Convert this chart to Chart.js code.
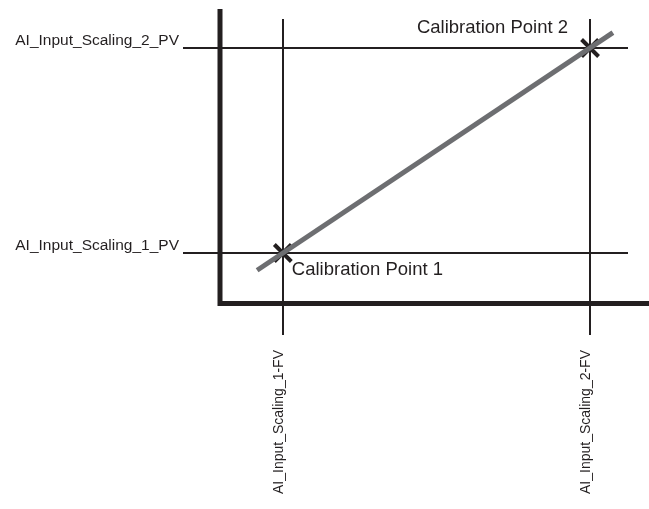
<!DOCTYPE html>
<html>
<head>
<meta charset="utf-8">
<script src="https://cdn.jsdelivr.net/npm/chart.js@4.4.1/dist/chart.umd.min.js"></script>
<style>
  html, body { margin: 0; padding: 0; background: #fff; }
  #wrap { width: 649px; height: 509px; position: relative; }
</style>
</head>
<body>
<div id="wrap"><canvas id="calib"></canvas></div>
<script>
// field values (x) and process values (y) of the two calibration points
const fvValues = [15.4, 90.7];
const fvLabels = ['AI_Input_Scaling_1-FV', 'AI_Input_Scaling_2-FV'];
const pvValues = [17.75, 89.8];
const pvLabels = ['AI_Input_Scaling_1_PV', 'AI_Input_Scaling_2_PV'];
const pointNames = ['Calibration Point 1', 'Calibration Point 2'];
// ends of the grey scaling line
const lineX = [9.1, 96.3];
const lineY = [11.7, 95.2];

const ink = '#231f20';
const font = "'Liberation Sans', Arial, Helvetica, sans-serif";

// thick L shaped axes + the names next to the two crosses
const axesAndNames = {
  id: 'axesAndNames',
  beforeDatasetsDraw(chart) {
    const a = chart.chartArea, ctx = chart.ctx;
    ctx.save();
    ctx.strokeStyle = ink;
    ctx.lineWidth = 5;
    ctx.lineJoin = 'miter';
    ctx.beginPath();
    ctx.moveTo(a.left, a.top - 10);
    ctx.lineTo(a.left, a.bottom);
    ctx.lineTo(a.right + 21, a.bottom);
    ctx.stroke();
    ctx.restore();
  },
  afterDraw(chart) {
    const ctx = chart.ctx;
    const pts = chart.getDatasetMeta(1).data;
    ctx.save();
    ctx.fillStyle = ink;
    ctx.font = '18.5px ' + font;
    ctx.textBaseline = 'alphabetic';
    // point 1 : text below right
    ctx.textAlign = 'left';
    ctx.fillText(pointNames[0], pts[0].x + 9, pts[0].y + 22);
    // point 2 : text above left
    ctx.textAlign = 'right';
    ctx.fillText(pointNames[1], pts[1].x - 22, pts[1].y - 15);
    ctx.restore();
  }
};

new Chart(document.getElementById('calib'), {
  type: 'scatter',
  data: {
    datasets: [
      {
        label: 'scaling',
        data: lineX.map((x, i) => ({ x: x, y: lineY[i] })),
        showLine: true,
        borderColor: '#6d6e71',
        borderWidth: 5,
        pointRadius: 0
      },
      {
        label: 'calibration points',
        data: fvValues.map((x, i) => ({ x: x, y: pvValues[i] })),
        showLine: false,
        pointStyle: 'crossRot',
        pointRadius: 12,
        pointBorderWidth: 4,
        borderColor: ink,
        backgroundColor: ink
      }
    ]
  },
  options: {
    responsive: true,
    maintainAspectRatio: false,
    animation: false,
    layout: { padding: { top: 19, right: 21, left: 0, bottom: 0 } },
    plugins: { legend: { display: false }, tooltip: { enabled: false } },
    scales: {
      x: {
        type: 'linear', min: 0, max: 100,
        afterBuildTicks: s => { s.ticks = fvValues.map(v => ({ value: v })); },
        afterFit: s => { s.height = 205.5; },
        ticks: {
          callback: (v, i) => fvLabels[i],
          autoSkip: false, minRotation: 90, maxRotation: 90,
          padding: 15, labelOffset: -4,
          color: ink, font: { family: font, size: 14 }
        },
        grid: { color: ink, lineWidth: 2, tickLength: 31.5 },
        border: { display: false }
      },
      y: {
        type: 'linear', min: 0, max: 100,
        afterBuildTicks: s => { s.ticks = pvValues.map(v => ({ value: v })); },
        afterFit: s => { s.width = 220; },
        ticks: {
          callback: (v, i) => pvLabels[i],
          autoSkip: false, padding: 4, labelOffset: -7,
          color: ink, font: { family: font, size: 15.5 }
        },
        grid: { color: ink, lineWidth: 2, tickLength: 37 },
        border: { display: false }
      }
    }
  },
  plugins: [axesAndNames]
});
</script>
</body>
</html>
